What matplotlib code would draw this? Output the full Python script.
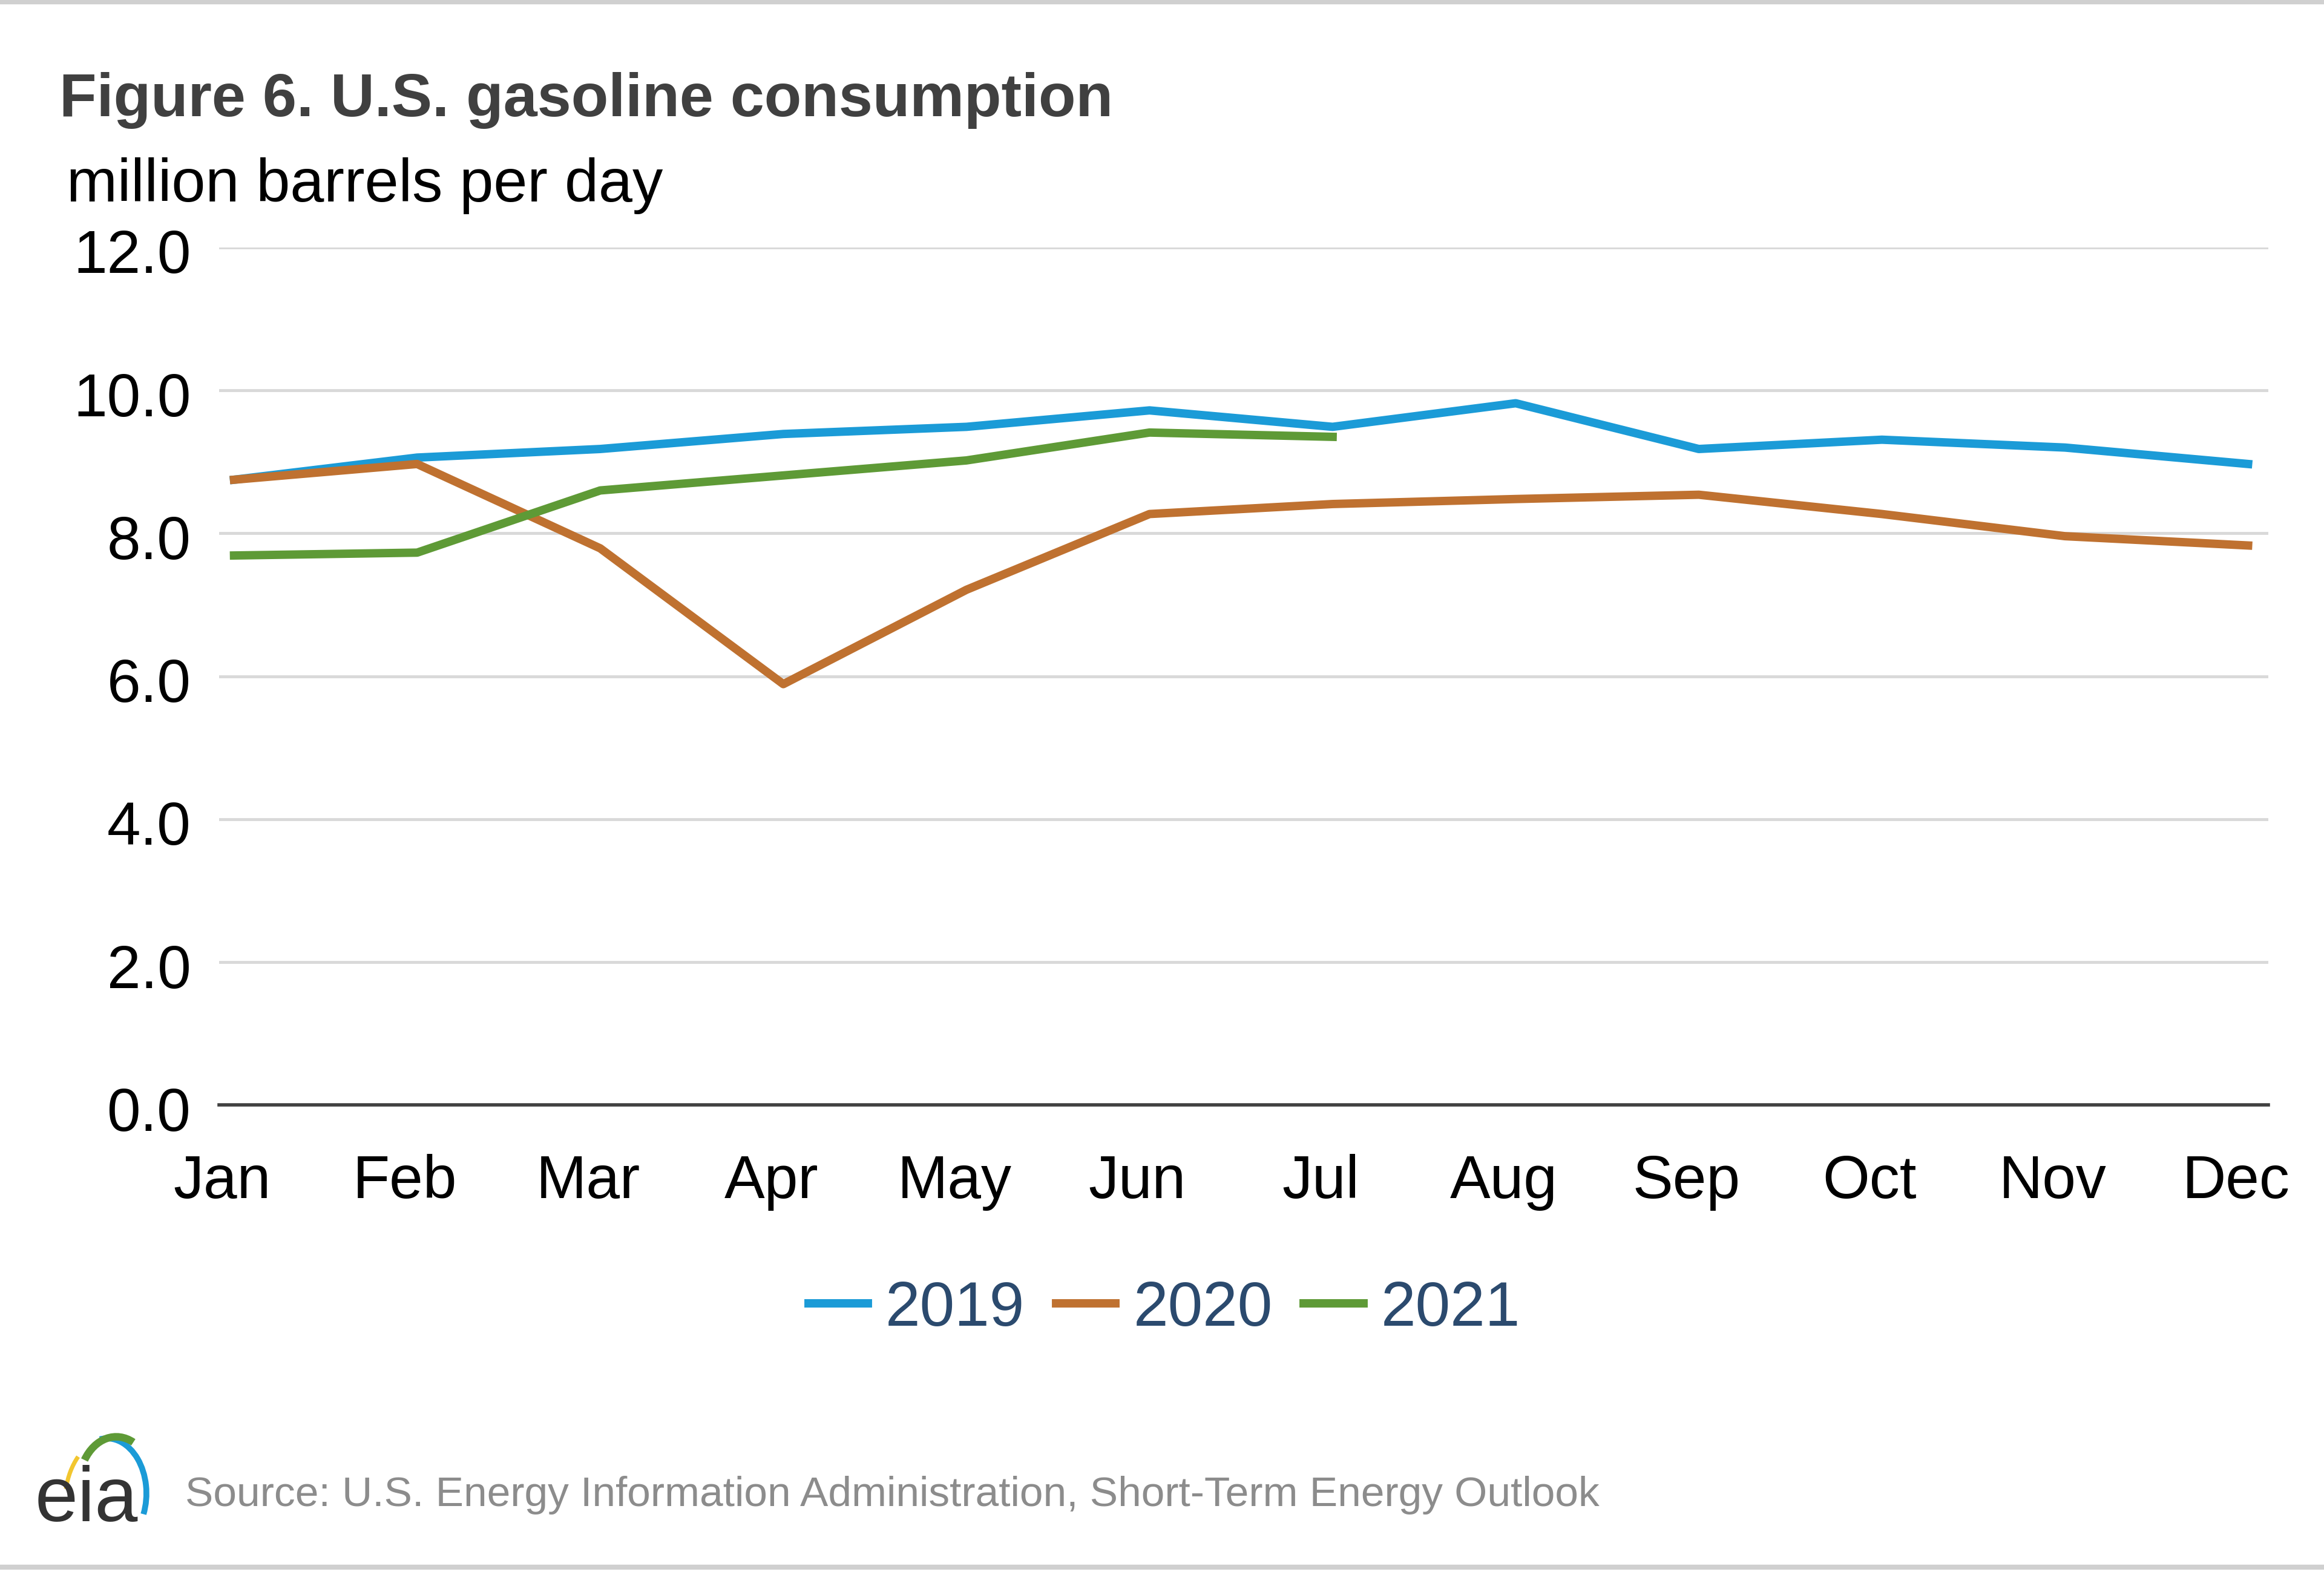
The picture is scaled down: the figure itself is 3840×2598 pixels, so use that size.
import matplotlib
matplotlib.use("Agg")
import matplotlib.pyplot as plt
import matplotlib.transforms as mtrans
from matplotlib.patches import Arc
from matplotlib.lines import Line2D

plt.rcParams['font.family'] = ['Liberation Sans', 'DejaVu Sans']

# data (million barrels per day)
months = ['Jan', 'Feb', 'Mar', 'Apr', 'May', 'Jun', 'Jul', 'Aug', 'Sep', 'Oct', 'Nov', 'Dec']
y2019 = [8.75, 9.06, 9.18, 9.39, 9.49, 9.72, 9.49, 9.82, 9.18, 9.31, 9.20, 8.97]
y2020 = [8.75, 8.97, 7.79, 5.89, 7.21, 8.27, 8.41, 8.48, 8.54, 8.27, 7.96, 7.83]
y2021 = [7.69, 7.73, 8.60, 8.81, 9.02, 9.41, 9.35]
yticks = [0, 2, 4, 6, 8, 10, 12]

c19 = '#1b9bd7'
c20 = '#bf7130'
c21 = '#5e9a36'

fig = plt.figure(figsize=(38.4, 25.98), dpi=100)
ax = fig.add_axes([0.0944, 0.297, 0.8816, 0.5456])

x = list(range(len(months)))
lw = 10
ax.plot(x, y2019, color=c19, lw=lw, label='2019')
ax.plot(x, y2020, color=c20, lw=lw, label='2020')
ax.plot(x[:len(y2021)], y2021, color=c21, lw=lw, label='2021')

ax.set_ylim(0, 12)
ax.set_xlim(-0.08, 11.11)
ax.set_yticks(yticks)
ax.set_yticklabels(['%.1f' % v for v in yticks])
ax.set_xticks(x)
ax.set_xticklabels(months)
ax.tick_params(axis='both', length=0, labelsize=72, colors='#000000')
ax.tick_params(axis='y', pad=34)
ax.tick_params(axis='x', pad=58)
# excel draws the month labels a little left of the points
shift = mtrans.ScaledTranslation(-0.2, 0, fig.dpi_scale_trans)
for lab in ax.get_xticklabels():
    lab.set_transform(lab.get_transform() + shift)
yshift = mtrans.ScaledTranslation(0, -0.06, fig.dpi_scale_trans)
for lab in ax.get_yticklabels():
    lab.set_transform(lab.get_transform() + yshift)

ax.grid(axis='y', color='#d9d9d9', lw=3.5)
ax.set_axisbelow(True)
for s in ['top', 'right', 'left']:
    ax.spines[s].set_visible(False)
ax.spines['bottom'].set_color('#404040')
ax.spines['bottom'].set_linewidth(4)
ax.spines['bottom'].set_zorder(1)

leg = fig.legend(loc='center', bbox_to_anchor=(0.501, 0.167), ncol=3, frameon=False,
                 fontsize=74.5, handlelength=0.95, handletextpad=0.28, columnspacing=0.5)
for t in leg.get_texts():
    t.set_color('#2b4a6e')

fig.text(0.0255, 0.936, 'Figure 6. U.S. gasoline consumption', fontsize=72.5, fontweight='bold',
         color='#404040', va='center', ha='left')
fig.text(0.0287, 0.882, 'million barrels per day', fontsize=72.5, color='#000000',
         va='center', ha='left')

# source line and eia logo
fig.text(0.0797, 0.049, 'Source: U.S. Energy Information Administration, Short-Term Energy Outlook',
         fontsize=50, color='#8c8c8c', va='center', ha='left')
fig.text(0.0150, 0.045, 'eia', fontsize=92, color='#333333', va='center', ha='left')
fig.add_artist(Arc((0.046, 0.050), 0.034, 0.070, theta1=-40, theta2=95,
                   transform=fig.transFigure, color='#1b9bd7', lw=7))
fig.add_artist(Arc((0.050, 0.055), 0.032, 0.062, theta1=75, theta2=130,
                   transform=fig.transFigure, color='#5e9a36', lw=9))
fig.add_artist(Arc((0.050, 0.045), 0.044, 0.085, theta1=120, theta2=160,
                   transform=fig.transFigure, color='#f2c62f', lw=5))

# thin frame lines top and bottom
fig.add_artist(Line2D([0, 1], [0.999, 0.999], transform=fig.transFigure, color='#d0d0d0', lw=6))
fig.add_artist(Line2D([0, 1], [0.003, 0.003], transform=fig.transFigure, color='#d0d0d0', lw=6))

fig.savefig('out.png', dpi=100)
